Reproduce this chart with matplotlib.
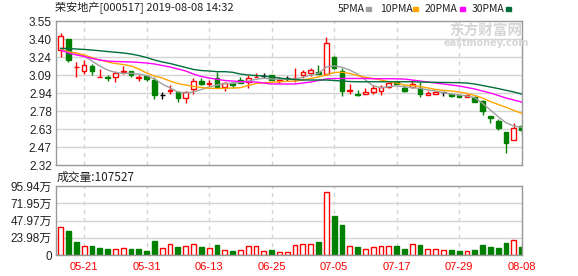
import numpy as np
import matplotlib
matplotlib.use("Agg")
import matplotlib.pyplot as plt
from matplotlib.patches import Rectangle

plt.rcParams['font.family'] = ['Liberation Sans', 'Noto Sans CJK SC', 'DejaVu Sans']

# trading days shown (2019)
dates = ["05-16", "05-17", "05-20", "05-21", "05-22", "05-23", "05-24", "05-27", "05-28", "05-29",
         "05-30", "05-31", "06-03", "06-04", "06-05", "06-06", "06-10", "06-11", "06-12", "06-13",
         "06-14", "06-17", "06-18", "06-19", "06-20", "06-21", "06-24", "06-25", "06-26", "06-27",
         "06-28", "07-01", "07-02", "07-03", "07-04", "07-05", "07-08", "07-09", "07-10", "07-11",
         "07-12", "07-15", "07-16", "07-17", "07-18", "07-19", "07-22", "07-23", "07-24", "07-25",
         "07-26", "07-29", "07-30", "07-31", "08-01", "08-02", "08-05", "08-06", "08-07", "08-08"]
label_dates = ["05-21", "05-31", "06-13", "06-25", "07-05", "07-17", "07-29", "08-08"]

opens = [3.30, 3.40, 3.155, 3.12, 3.165, 3.07, 3.07, 3.07, 3.115, 3.12,
         3.065, 3.08, 3.05, 2.92, 2.955, 2.945, 2.89, 2.97, 3.035, 3.015,
         3.06, 2.985, 3.02, 3.05, 3.03, 3.07, 3.08, 3.09, 3.035, 3.06,
         3.055, 3.085, 3.11, 3.115, 3.10, 3.245, 3.125, 2.955, 2.928, 2.926,
         2.946, 2.955, 2.99, 3.03, 2.98, 2.985, 2.98, 2.92, 2.926, 2.945,
         2.925, 2.915, 2.905, 2.905, 2.865, 2.74, 2.695, 2.60, 2.53, 2.65]
highs = [3.45, 3.40, 3.20, 3.22, 3.18, 3.14, 3.09, 3.125, 3.165, 3.125,
         3.09, 3.09, 3.07, 2.945, 3.00, 2.955, 2.955, 3.06, 3.06, 3.045,
         3.115, 3.03, 3.03, 3.075, 3.09, 3.11, 3.11, 3.09, 3.07, 3.08,
         3.145, 3.13, 3.15, 3.175, 3.415, 3.25, 3.145, 3.01, 2.96, 2.975,
         3.00, 3.00, 3.03, 3.035, 3.00, 3.05, 3.03, 2.955, 2.955, 2.945,
         2.93, 2.918, 2.918, 2.907, 2.875, 2.74, 2.71, 2.60, 2.675, 2.67]
lows = [3.24, 3.20, 3.07, 3.10, 3.09, 3.07, 3.04, 3.03, 3.10, 3.075,
        3.04, 3.04, 2.885, 2.885, 2.925, 2.86, 2.85, 2.93, 3.00, 2.995,
        2.99, 2.955, 2.98, 3.02, 2.98, 3.07, 3.06, 3.05, 3.02, 3.04,
        3.025, 3.06, 3.08, 3.095, 3.09, 3.14, 2.91, 2.93, 2.91, 2.926,
        2.926, 2.92, 2.975, 3.01, 2.945, 2.975, 2.90, 2.918, 2.926, 2.91,
        2.905, 2.898, 2.904, 2.86, 2.745, 2.68, 2.62, 2.425, 2.53, 2.575]
closes = [3.42, 3.22, 3.16, 3.17, 3.125, 3.075, 3.06, 3.11, 3.12, 3.09,
          3.07, 3.055, 2.92, 2.92, 2.96, 2.89, 2.94, 3.04, 3.01, 3.02,
          2.99, 3.02, 3.005, 3.02, 3.065, 3.075, 3.08, 3.05, 3.05, 3.06,
          3.062, 3.115, 3.135, 3.10, 3.36, 3.145, 2.955, 2.96, 2.922, 2.946,
          2.975, 2.99, 3.02, 3.01, 2.955, 3.01, 2.925, 2.935, 2.94, 2.945,
          2.91, 2.90, 2.915, 2.86, 2.785, 2.725, 2.64, 2.51, 2.64, 2.62]

ma5 = [3.308, 3.288, 3.274, 3.251, 3.208, 3.166, 3.131, 3.110, 3.103, 3.103,
       3.097, 3.084, 3.055, 3.012, 2.978, 2.944, 2.935, 2.944, 2.965, 2.986,
       3.003, 3.016, 3.018, 3.026, 3.037, 3.052, 3.061, 3.055, 3.052, 3.052,
       3.055, 3.069, 3.089, 3.103, 3.157, 3.166, 3.155, 3.131, 3.097, 3.046,
       2.996, 2.980, 2.989, 2.995, 2.989, 2.980, 2.975, 2.961, 2.952, 2.938,
       2.926, 2.918, 2.909, 2.895, 2.847, 2.790, 2.733, 2.681, 2.653, 2.642]
ma10 = [3.307, 3.285, 3.277, 3.260, 3.238, 3.217, 3.200, 3.187, 3.178, 3.166,
        3.140, 3.106, 3.080, 3.063, 3.037, 3.016, 3.003, 2.991, 2.982, 2.976,
        2.973, 2.975, 2.978, 2.980, 2.999, 3.016, 3.023, 3.026, 3.031, 3.035,
        3.037, 3.046, 3.059, 3.072, 3.089, 3.110, 3.112, 3.102, 3.084, 3.069,
        3.059, 3.046, 3.031, 3.020, 3.003, 2.999, 2.991, 2.978, 2.965, 2.958,
        2.952, 2.944, 2.931, 2.914, 2.892, 2.862, 2.837, 2.813, 2.786, 2.762]
ma20 = [3.302, 3.277, 3.260, 3.247, 3.230, 3.217, 3.208, 3.204, 3.202, 3.200,
        3.196, 3.191, 3.183, 3.170, 3.157, 3.140, 3.123, 3.097, 3.076, 3.063,
        3.052, 3.042, 3.037, 3.033, 3.029, 3.029, 3.020, 3.012, 3.012, 3.012,
        3.012, 3.020, 3.029, 3.042, 3.055, 3.059, 3.059, 3.059, 3.059, 3.059,
        3.057, 3.057, 3.057, 3.056, 3.054, 3.046, 3.037, 3.029, 3.020, 3.012,
        3.003, 2.995, 2.982, 2.969, 2.952, 2.935, 2.914, 2.892, 2.875, 2.858]
ma30 = [3.317, 3.314, 3.311, 3.307, 3.302, 3.296, 3.289, 3.283, 3.277, 3.268,
        3.255, 3.238, 3.217, 3.200, 3.187, 3.170, 3.153, 3.136, 3.127, 3.123,
        3.117, 3.117, 3.112, 3.097, 3.089, 3.084, 3.080, 3.072, 3.063, 3.055,
        3.050, 3.046, 3.046, 3.046, 3.046, 3.042, 3.037, 3.033, 3.031, 3.031,
        3.031, 3.031, 3.031, 3.031, 3.031, 3.031, 3.029, 3.027, 3.026, 3.025,
        3.024, 3.023, 3.020, 3.012, 2.999, 2.986, 2.973, 2.958, 2.944, 2.926]

# 成交量, 万手
volumes = [38.5, 33.4, 18.5, 12.5, 12.5, 9.7, 8.3, 7.9, 10.2, 8.0,
           8.3, 5.6, 19.5, 9.3, 14.9, 10.7, 12.5, 14.9, 11.6, 10.2,
           13.9, 7.0, 5.6, 7.0, 12.9, 12.5, 5.6, 7.0, 3.7, 4.6,
           13.9, 15.3, 15.3, 18.1, 88.0, 54.2, 41.7, 12.5, 10.7, 8.3,
           10.7, 12.5, 12.5, 12.5, 8.3, 14.9, 13.9, 7.9, 7.9, 7.0,
           7.0, 5.6, 5.6, 7.0, 13.9, 10.7, 10.2, 17.1, 20.9, 10.75]

price_ticks = ["2.32", "2.47", "2.63", "2.78", "2.94", "3.09", "3.24", "3.40", "3.55"]
vol_ticks = [0, 23.98, 47.97, 71.95, 95.94]
vol_tick_labels = ["0", "23.98万", "47.97万", "71.95万", "95.94万"]

RED = "#ff0000"
GREEN = "#008000"
GRID = "#d4d4d4"
FRAME = "#999999"
ma_colors = ["#a0a0a0", "#ffa500", "#ff00ff", "#006f3c"]

W, H = 578, 276
fig = plt.figure(figsize=(W / 100, H / 100), dpi=100)
ax_p = fig.add_axes([56 / W, (H - 165) / H, 466 / W, 144 / H])
ax_v = fig.add_axes([56 / W, (H - 255) / H, 466 / W, 69 / H])

x = np.arange(len(dates))
o = np.array(opens)
c = np.array(closes)
label_pos = [dates.index(d) for d in label_dates]

# candles
for i in x:
    if c[i] > o[i]:
        col, face = RED, "white"
    elif c[i] < o[i]:
        col, face = GREEN, GREEN
    else:
        col, face = "black", "black"
    ax_p.vlines(i, lows[i], highs[i], color=col, lw=1, zorder=2)
    ax_p.bar(i, abs(c[i] - o[i]), bottom=min(o[i], c[i]), width=0.6,
             facecolor=face, edgecolor=col, linewidth=1, zorder=2.5)

for ma, col in zip([ma5, ma10, ma20, ma30], ma_colors):
    ax_p.plot(x, ma, color=col, lw=1, zorder=3)

ax_p.set_xlim(-0.6, len(dates) - 0.95)
ax_p.set_ylim(2.32, 3.55)
yt = np.linspace(2.32, 3.55, len(price_ticks))
ax_p.set_yticks(yt)
ax_p.set_yticklabels(price_ticks)
ax_p.set_xticks([])
for v in yt[1:-1]:
    ax_p.axhline(v, color=GRID, lw=1, zorder=0)

# volume bars, colour by change against previous close
prev = np.concatenate([[o[0]], c[:-1]])
up = c >= prev
ax_v.bar(x[up], np.array(volumes)[up], width=0.62, facecolor="white",
         edgecolor=RED, linewidth=1, zorder=2)
ax_v.bar(x[~up], np.array(volumes)[~up], width=0.62, facecolor=GREEN,
         edgecolor=GREEN, linewidth=1, zorder=2)
ax_v.set_xlim(ax_p.get_xlim())
ax_v.set_ylim(0, vol_ticks[-1])
ax_v.set_yticks(vol_ticks)
ax_v.set_yticklabels(vol_tick_labels)
for v in vol_ticks[1:-1]:
    ax_v.axhline(v, color=GRID, lw=1, zorder=0)
ax_v.set_xticks(label_pos)
ax_v.set_xticklabels(label_dates)

for ax in (ax_p, ax_v):
    for p in label_pos:
        ax.axvline(p, color=GRID, lw=1, ls=(0, (3, 3)), zorder=0)
    for s in ax.spines.values():
        s.set_color(FRAME)
        s.set_linewidth(1)
    ax.tick_params(length=0, labelsize=8.5, colors="#222222", pad=3)
ax_v.tick_params(axis="x", colors=RED, labelsize=8, pad=5)

# title, legend, volume label
cjk = ["Noto Sans CJK SC", "DejaVu Sans"]
fig.text(55 / W, 1 - 8 / H, "荣安地产[000517] 2019-08-08 14:32", family=cjk,
         fontsize=8, va="center", ha="left", color="#222222")
fig.text(57 / W, 1 - 177 / H, "成交量:107527", family=cjk,
         fontsize=8.5, va="center", ha="left", color="#222222")

leg_x = [338, 380, 425, 472]
sw_x = [366, 413, 460, 506]
for name, lx, sx, col in zip(["5PMA", "10PMA", "20PMA", "30PMA"], leg_x, sw_x, ma_colors):
    fig.text(lx / W, 1 - 9 / H, name, family=cjk, fontsize=7.5, va="center",
             ha="left", color="#222222")
    fig.add_artist(Rectangle((sx / W, 1 - 10.5 / H), 5 / W, 3 / H, color=col,
                             transform=fig.transFigure))

# watermark
fig.text(486 / W, 1 - 31 / H, "东方财富网", family=cjk, fontsize=10.5,
         fontweight="bold", color="#d6d6d6", ha="center", va="center")
fig.text(486 / W, 1 - 43 / H, "eastmoney.com", family=["DejaVu Sans"], fontsize=7,
         fontweight="bold", color="#d6d6d6", ha="center", va="center")

fig.savefig("out.png", dpi=100)
